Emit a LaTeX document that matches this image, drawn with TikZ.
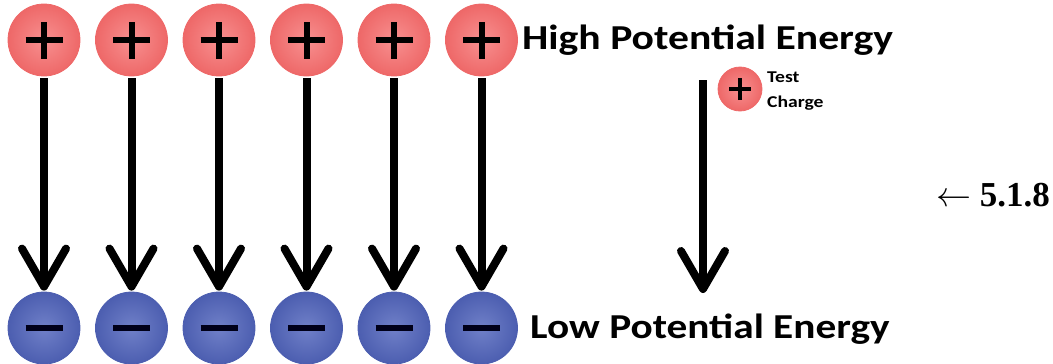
\RequirePackage{fix-cm}
\documentclass[tikz,border=0pt]{standalone}
\usepackage{fontspec}
\setmainfont{Liberation Serif}
\newfontfamily\calib{Carlito}
\usetikzlibrary{arrows.meta}
\definecolor{posred}{RGB}{246,124,124}
\definecolor{posedge}{RGB}{238,104,104}
\definecolor{negblue}{RGB}{96,114,194}
\definecolor{negedge}{RGB}{76,94,176}
\tikzset{
  poscharge/.style={circle, minimum size=72pt, inner sep=0pt, draw=posedge, line width=0.8pt, inner color=posred!85, outer color=posedge},
  negcharge/.style={circle, minimum size=72pt, inner sep=0pt, draw=negedge, line width=0.8pt, inner color=negblue!90, outer color=negedge},
  fieldarrow/.style={line width=8pt, -{Straight Barb[length=38pt,width=44pt,round]}},
  bigtext/.style={font=\calib\bfseries\fontsize{35}{40}\selectfont, anchor=west, inner sep=0pt},
  smalltext/.style={font=\calib\bfseries\fontsize{16.5}{25}\selectfont, anchor=west, inner sep=0pt, align=left}
}
\newcommand{\plussign}[1]{\draw[line width=6pt] ([xshift=-18.5pt]#1.center) -- ([xshift=18.5pt]#1.center) ([yshift=-18.5pt]#1.center) -- ([yshift=18.5pt]#1.center);}
\newcommand{\minussign}[1]{\draw[line width=5.5pt, color=black!90!blue] ([xshift=-18.5pt]#1.center) -- ([xshift=18.5pt]#1.center);}
\begin{document}
\begin{tikzpicture}[x=1pt,y=-1pt]
\useasboundingbox (0,0) rectangle (1053,364);
\foreach \i/\x in {1/44,2/131.5,3/219,4/306.5,5/394,6/481.5}{
  \node[poscharge] (p\i) at (\x,40) {};
  \plussign{p\i}
  \node[negcharge] (n\i) at (\x,328) {};
  \minussign{n\i}
  \draw[fieldarrow, shorten <=2pt, shorten >=1pt] (p\i.south) -- (n\i.north);
}
\node[bigtext] (high) at (522,40) {\scalebox{1.19}[1]{High Potential Energy}};
\node[bigtext] (low) at (530,329) {\scalebox{1.18}[1]{Low Potential Energy}};
% test charge
\node[poscharge, minimum size=44pt] (tc) at (740,89) {};
\draw[line width=4pt] ([xshift=-11pt]tc.center) -- ([xshift=11pt]tc.center) ([yshift=-11pt]tc.center) -- ([yshift=11pt]tc.center);
\node[smalltext] (tl) at (767,91) {\scalebox{1.19}[1]{Test}\\\scalebox{1.19}[1]{Charge}};
\coordinate (ta) at (703,80);
\coordinate (tb) at (703,293);
\draw[fieldarrow] (ta) -- (tb);
\node[font=\fontsize{35}{40}\selectfont, anchor=east, inner sep=0pt] (lab) at (1050,195) {$\leftarrow$ \textbf{5.1.8}};
\end{tikzpicture}
\end{document}
